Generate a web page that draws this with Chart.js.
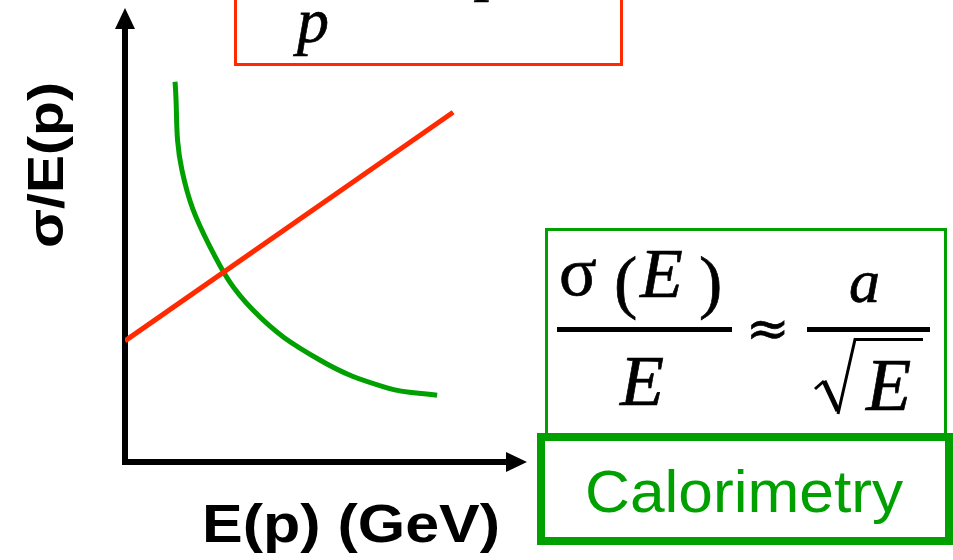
<!DOCTYPE html>
<html>
<head>
<meta charset="utf-8">
<script src="https://cdn.jsdelivr.net/npm/chart.js@4/dist/chart.umd.min.js"></script>
<style>
  html, body { margin: 0; padding: 0; background: #ffffff; }
  #wrap { width: 953px; height: 560px; }
</style>
</head>
<body>
<div id="wrap"><canvas id="c" width="953" height="560"></canvas></div>
<script>
// Tracking resolution: grows linearly with momentum
const trackX = [0, 8.59];
const trackY = [2.79, 8.06];

// Calorimetry resolution: falls like a / sqrt(E)
const caloX = [1.31, 1.49, 2.23, 3.35, 5.10, 6.86, 8.17];
const caloY = [8.76, 6.73, 4.95, 3.50, 2.35, 1.71, 1.54];

const xTitle = 'E(p) (GeV)';
const yTitle = 'σ/E(p)';
const caloLabel = 'Calorimetry';

const RED = '#ff2a00';
const GREEN = '#00a000';
const SERIF = '"Liberation Serif", "Times New Roman", serif';

const toPoints = (xs, ys) => xs.map((x, i) => ({ x: x, y: ys[i] }));

// Draw a string with its advance width stretched to a target width
function fitText(ctx, text, x, y, targetW) {
  const w = ctx.measureText(text).width;
  ctx.save();
  ctx.translate(x, y);
  ctx.scale(targetW / w, 1);
  ctx.fillText(text, 0, 0);
  ctx.restore();
}

// Formula glyph, slightly emboldened
function glyph(ctx, text, font, x, y) {
  ctx.font = font;
  ctx.lineWidth = 0.7;
  ctx.strokeText(text, x, y);
  ctx.fillText(text, x, y);
}

const decorations = {
  id: 'decorations',
  afterDraw(chart) {
    const ctx = chart.ctx;
    const a = chart.chartArea;
    ctx.save();

    // axis arrowheads
    ctx.fillStyle = '#000';
    ctx.beginPath();
    ctx.moveTo(a.left, a.top - 20);
    ctx.lineTo(a.left - 10, a.top + 1);
    ctx.lineTo(a.left + 10, a.top + 1);
    ctx.closePath();
    ctx.fill();
    ctx.beginPath();
    ctx.moveTo(a.right + 20, a.bottom);
    ctx.lineTo(a.right - 1, a.bottom - 10);
    ctx.lineTo(a.right - 1, a.bottom + 10);
    ctx.closePath();
    ctx.fill();

    // axis titles
    ctx.textAlign = 'left';
    ctx.textBaseline = 'alphabetic';
    ctx.font = 'bold 53px "Liberation Sans", Arial, sans-serif';
    fitText(ctx, xTitle, 202, 542, 298);
    ctx.save();
    ctx.translate(63, 248);
    ctx.rotate(-Math.PI / 2);
    ctx.font = 'bold 50px "Liberation Sans", Arial, sans-serif';
    fitText(ctx, yTitle, 0, 0, 166);
    ctx.restore();

    // tracking formula box (upper part lies above the page)
    ctx.strokeStyle = RED;
    ctx.lineWidth = 3;
    ctx.strokeRect(235.5, -10, 386, 74.5);
    ctx.fillStyle = '#000';
    ctx.strokeStyle = '#000';
    glyph(ctx, 'p', 'italic 64px ' + SERIF, 297, 42);
    glyph(ctx, 'p', 'italic 64px ' + SERIF, 478, -12);

    // calorimetry formula box
    ctx.strokeStyle = GREEN;
    ctx.lineWidth = 3;
    ctx.strokeRect(546.5, 229.5, 399, 205);
    ctx.lineWidth = 8;
    ctx.strokeRect(541, 437, 408, 104);

    ctx.fillStyle = GREEN;
    ctx.font = '60px "Liberation Sans", Arial, sans-serif';
    fitText(ctx, caloLabel, 585, 512, 318);

    // sigma(E) / E  ~  a / sqrt(E)
    ctx.fillStyle = '#000';
    ctx.strokeStyle = '#000';
    glyph(ctx, 'σ', '70px ' + SERIF, 559, 295);
    glyph(ctx, '(', '70px ' + SERIF, 614, 305);
    glyph(ctx, ')', '70px ' + SERIF, 699, 305);
    glyph(ctx, 'E', 'italic 70px ' + SERIF, 640, 297);
    glyph(ctx, 'E', 'italic 72px ' + SERIF, 620, 405);
    glyph(ctx, '≈', '52px "DejaVu Serif", serif', 746, 346);
    glyph(ctx, 'a', 'italic 62px ' + SERIF, 849, 302);
    glyph(ctx, 'E', 'italic 74px ' + SERIF, 866, 410);

    ctx.fillRect(557, 327, 175, 5);
    ctx.fillRect(807, 327, 123, 5);

    // radical sign
    ctx.lineJoin = 'miter';
    ctx.lineWidth = 3;
    ctx.beginPath();
    ctx.moveTo(815, 389);
    ctx.lineTo(824, 381);
    ctx.stroke();
    ctx.lineWidth = 5;
    ctx.beginPath();
    ctx.moveTo(824, 381);
    ctx.lineTo(838, 411);
    ctx.stroke();
    ctx.lineWidth = 3;
    ctx.beginPath();
    ctx.moveTo(838, 414);
    ctx.lineTo(855, 339.5);
    ctx.lineTo(923, 339.5);
    ctx.stroke();

    ctx.restore();
  }
};

new Chart(document.getElementById('c'), {
  type: 'line',
  data: {
    datasets: [
      {
        label: 'Tracking',
        data: toPoints(trackX, trackY),
        borderColor: RED,
        borderWidth: 5,
        pointRadius: 0,
        tension: 0
      },
      {
        label: caloLabel,
        data: toPoints(caloX, caloY),
        borderColor: GREEN,
        borderWidth: 5,
        pointRadius: 0,
        tension: 0.4
      }
    ]
  },
  options: {
    responsive: false,
    animation: false,
    events: [],
    layout: { padding: { left: 125, right: 446, top: 28, bottom: 98 } },
    plugins: { legend: { display: false }, tooltip: { enabled: false }, title: { display: false } },
    scales: {
      x: {
        type: 'linear', min: 0, max: 10,
        ticks: { display: false },
        grid: { display: false, drawTicks: false },
        border: { display: true, color: '#000', width: 6 }
      },
      y: {
        type: 'linear', min: 0, max: 10,
        ticks: { display: false },
        grid: { display: false, drawTicks: false },
        border: { display: true, color: '#000', width: 6 }
      }
    }
  },
  plugins: [decorations]
});
</script>
</body>
</html>
